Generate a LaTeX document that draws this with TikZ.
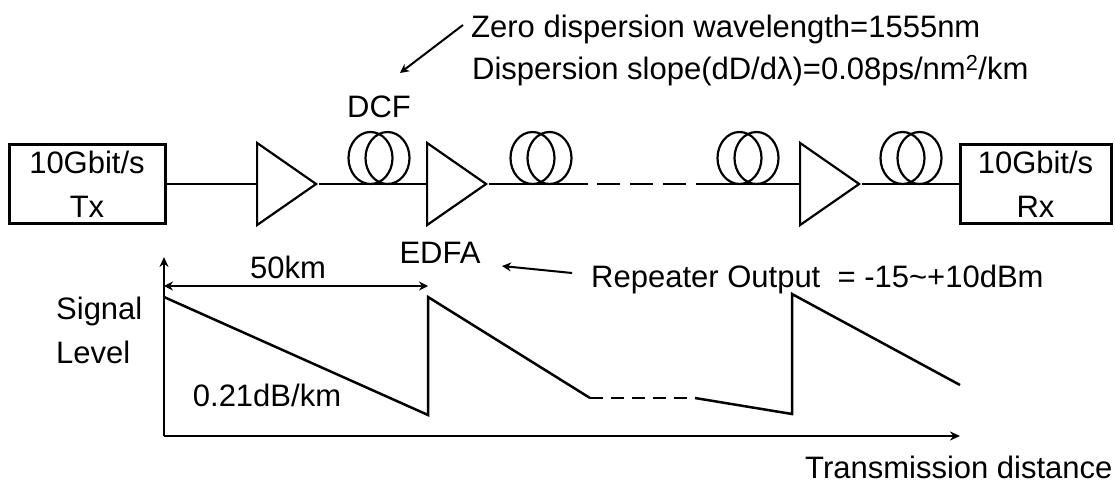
\documentclass[tikz,border=0pt]{standalone}
\usepackage{fontspec}
\setmainfont{Liberation Sans}
\usetikzlibrary{positioning,shapes.geometric,arrows.meta}

\begin{document}
\begin{tikzpicture}[
		x=1pt, y=-1pt,
		every node/.style={font=\fontsize{31}{44}\selectfont},
		boxnode/.style={rectangle, draw=black, line width=3pt, minimum height=79pt, align=center, inner sep=0pt},
		ampnode/.style={isosceles triangle, isosceles triangle stretches, draw=black, line width=2.2pt, minimum width=82pt, minimum height=59pt, inner sep=0pt, anchor=apex},
		textnode/.style={inner sep=0pt, anchor=base west},
		fibre/.style={line width=2.6pt},
		axis/.style={line width=2.5pt, -{Stealth[length=10pt,width=9pt]}},
		level/.style={line width=2.5pt},
		pointer/.style={-{Stealth[length=9pt,width=9pt]}, line width=2pt},
		coil/.pic={
			\draw[line width=2.2pt] (-8.5,0) circle[x radius=22, y radius=26];
			\draw[line width=2.2pt] (8.5,0) circle[x radius=22, y radius=26];
		},
	]
	\useasboundingbox (0,0) rectangle (1116,484);

	%Nodes
	\node[boxnode, minimum width=156pt]	(tx)	at (87,184)		{10Gbit/s\\Tx};
	\node[boxnode, minimum width=151pt]	(rx)	at (1035.5,184)	{10Gbit/s\\Rx};
	\node[ampnode]	(amp1)	at (319,184)	{};
	\node[ampnode]	(amp2)	at (489,184)	{};
	\node[ampnode]	(amp3)	at (862,184)	{};
	\pic at (379,158) {coil};
	\pic at (541,158) {coil};
	\pic at (748,158) {coil};
	\pic at (911,158) {coil};
	\coordinate (solidend) at (588,184);
	\coordinate (dash1) at (597,184);
	\coordinate (dash2) at (697,184);

	%Labels
	\node[textnode]	(zero)	at (471,38)		{Zero dispersion wavelength=1555nm};
	\node[textnode]	(slope)	at (472,80)		{Dispersion slope(dD/dλ)=0.08ps/nm\textsuperscript{2}/km};
	\node			(dcf)	at (379,107)	{DCF};
	\node			(edfa)	at (440,253)	{EDFA};
	\node			(span)	at (288,267)	{50km};
	\node[textnode]	(rep)	at (591,287)	{Repeater Output\ \ = -15\textasciitilde+10dBm};
	\node[align=left, inner sep=0pt, anchor=north west]	(sig)	at (56,297)	{Signal\\Level};
	\node			(rate)	at (267,395)	{0.21dB/km};
	\node[textnode]	(dist)	at (805,478)	{Transmission distance};

	\coordinate (o) at (164,436);
	\coordinate (ytop) at (164,257);
	\coordinate (xend) at (960,436);
	\coordinate (p0) at (164,297);
	\coordinate (p1) at (428,415);
	\coordinate (p2) at (428,297);
	\coordinate (p3) at (590,398);
	\coordinate (p4) at (695,398);
	\coordinate (p5) at (792,414);
	\coordinate (p6) at (792,294);
	\coordinate (p7) at (960,385);
	\coordinate (s1) at (164,286);
	\coordinate (s2) at (428,286);
	\coordinate (zerostart) at (463,25);
	\coordinate (zerotip) at (400,73);
	\coordinate (repstart) at (572,273);
	\coordinate (reptip) at (502,266);

	%Lines
	\draw[fibre]	(tx.east) -- (amp1.west);
	\draw[fibre]	(amp1.apex) -- (amp2.west);
	\draw[fibre]	(amp2.apex) -- (solidend);
	\draw[fibre, dash pattern=on 23pt off 10pt]	(dash1) -- (dash2);
	\draw[fibre]	(dash2) -- (amp3.west);
	\draw[fibre]	(amp3.apex) -- (rx.west);
	\draw[axis]	(o) -- (ytop);
	\draw[axis]	(o) -- (xend);
	\draw[level, {Stealth[length=9pt,width=9pt]}-{Stealth[length=9pt,width=9pt]}]	(s1) -- (s2);
	\draw[level]	(p0) -- (p1) -- (p2) -- (p3);
	\draw[level, dash pattern=on 13pt off 8pt]	(p3) -- (p4);
	\draw[level]	(p4) -- (p5) -- (p6) -- (p7);
	\draw[pointer]	(zerostart) -- (zerotip);
	\draw[pointer]	(repstart) -- (reptip);
\end{tikzpicture}
\end{document}
